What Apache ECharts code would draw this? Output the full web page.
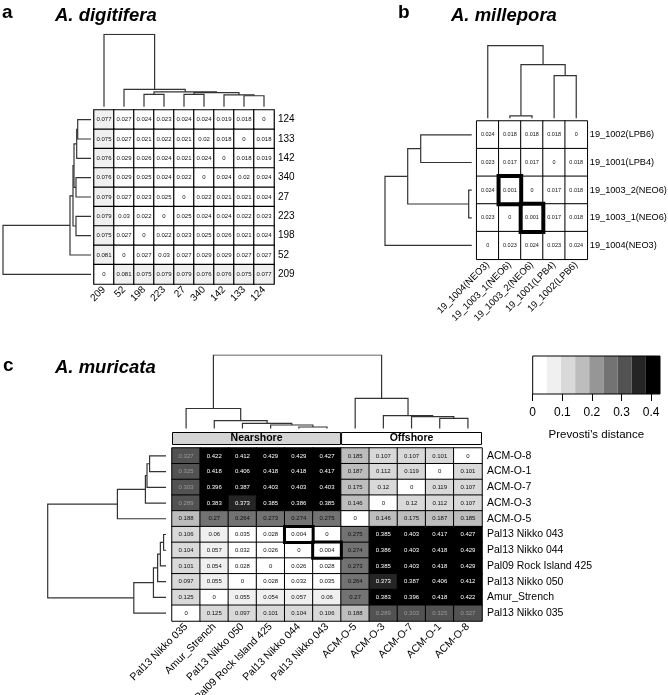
<!DOCTYPE html>
<html><head><meta charset="utf-8">
<script src="https://cdn.jsdelivr.net/npm/echarts@6/dist/echarts.min.js"></script>
<style>html,body{margin:0;padding:0;background:#fff}#c{width:668px;height:695px}</style>
</head><body><div id="c"></div>
<script>
// ================= DATA =================
// Panel a: A. digitifera
const aCols = ['209','52','198','223','27','340','142','133','124'];
const aRows = ['124','133','142','340','27','223','198','52','209'];
const aVals = [
  [0.077,0.027,0.024,0.023,0.024,0.024,0.019,0.018,0],
  [0.075,0.027,0.021,0.022,0.021,0.02,0.018,0,0.018],
  [0.076,0.029,0.026,0.024,0.021,0.024,0,0.018,0.019],
  [0.076,0.029,0.025,0.024,0.022,0,0.024,0.02,0.024],
  [0.079,0.027,0.023,0.025,0,0.022,0.021,0.021,0.024],
  [0.079,0.03,0.022,0,0.025,0.024,0.024,0.022,0.023],
  [0.075,0.027,0,0.022,0.023,0.025,0.026,0.021,0.024],
  [0.081,0,0.027,0.03,0.027,0.029,0.029,0.027,0.027],
  [0,0.081,0.075,0.079,0.079,0.076,0.076,0.075,0.077]
];
// dendrogram merges [childA, childB, height] (leaf ids = column index, merged ids follow)
const aMerges = [[7,8,13.3],[6,9,14.3],[4,5,15],[2,3,15],[11,10,17],[12,13,18],[1,14,21],[0,15,88]];

// Panel b: A. millepora
const bCols = ['19_1004(NEO3)','19_1003_1(NEO6)','19_1003_2(NEO6)','19_1001(LPB4)','19_1002(LPB6)'];
const bRows = ['19_1002(LPB6)','19_1001(LPB4)','19_1003_2(NEO6)','19_1003_1(NEO6)','19_1004(NEO3)'];
const bVals = [
  [0.024,0.018,0.018,0.018,0],
  [0.023,0.017,0.017,0,0.018],
  [0.024,0.001,0,0.017,0.018],
  [0.023,0,0.001,0.017,0.018],
  [0,0.023,0.024,0.023,0.024]
];
const bMerges = [[1,2,3],[3,4,51],[5,6,64],[0,7,86.7]];
const bHighlight = [['19_1003_2(NEO6)','19_1003_1(NEO6)'],['19_1003_1(NEO6)','19_1003_2(NEO6)']];

// Panel c: A. muricata
const cCols = ['Pal13 Nikko 035','Amur_Strench','Pal13 Nikko 050','Pal09 Rock Island 425','Pal13 Nikko 044','Pal13 Nikko 043','ACM-O-5','ACM-O-3','ACM-O-7','ACM-O-1','ACM-O-8'];
const cColGroups = ['Nearshore','Nearshore','Nearshore','Nearshore','Nearshore','Nearshore','Offshore','Offshore','Offshore','Offshore','Offshore'];
const cRows = ['ACM-O-8','ACM-O-1','ACM-O-7','ACM-O-3','ACM-O-5','Pal13 Nikko 043','Pal13 Nikko 044','Pal09 Rock Island 425','Pal13 Nikko 050','Amur_Strench','Pal13 Nikko 035'];
const cVals = [
  [0.327,0.422,0.412,0.429,0.429,0.427,0.185,0.107,0.107,0.101,0],
  [0.325,0.418,0.406,0.418,0.418,0.417,0.187,0.112,0.119,0,0.101],
  [0.303,0.396,0.387,0.403,0.403,0.403,0.175,0.12,0,0.119,0.107],
  [0.289,0.383,0.373,0.385,0.386,0.385,0.146,0,0.12,0.112,0.107],
  [0.188,0.27,0.264,0.273,0.274,0.275,0,0.146,0.175,0.187,0.185],
  [0.106,0.06,0.035,0.028,0.004,0,0.275,0.385,0.403,0.417,0.427],
  [0.104,0.057,0.032,0.026,0,0.004,0.274,0.386,0.403,0.418,0.429],
  [0.101,0.054,0.028,0,0.026,0.028,0.273,0.385,0.403,0.418,0.429],
  [0.097,0.055,0,0.028,0.032,0.035,0.264,0.373,0.387,0.406,0.412],
  [0.125,0,0.055,0.054,0.057,0.06,0.27,0.383,0.396,0.418,0.422],
  [0,0.125,0.097,0.101,0.104,0.106,0.188,0.289,0.303,0.325,0.327]
];
const cMerges = [[4,5,1.5],[3,11,3.5],[2,12,5.2],[1,13,7.8],[0,14,20],[9,10,10.2],[8,16,11.8],[7,17,12.8],[6,18,30.2],[15,19,73.5]];
const cHighlight = [['Pal13 Nikko 043','Pal13 Nikko 044'],['Pal13 Nikko 044','Pal13 Nikko 043']];

// Colour key
const keyColors = ['#FFFFFF','#F0F0F0','#D9D9D9','#BDBDBD','#969696','#737373','#525252','#252525','#000000'];
const keyMax = 0.43;
const keyTicks = [0,0.1,0.2,0.3,0.4];

// ================= BUILD =================
const FF = '"Liberation Sans", Arial, Helvetica, sans-serif';
const step = keyMax / keyColors.length;
const pieces = keyColors.map((c,i)=> i===keyColors.length-1 ? {gte:i*step, lte:10, color:c} : {gte:i*step, lt:(i+1)*step, color:c});

function heatData(rows, cols, vals, colorFn){
  const out = [];
  rows.forEach((r,ri)=> cols.forEach((c,ci)=>{
    const v = vals[ri][ci];
    out.push({value:[ci,ri,v], label:{color:colorFn(v)}});
  }));
  return out;
}
function hlData(rows, cols, hl){
  return hl.map(([r,c])=>[cols.indexOf(c), rows.indexOf(r), 1]);
}
function dendro(n, merges, orient){
  const pos=[], ht=[];
  for(let i=0;i<n;i++){pos[i]=i;ht[i]=0;}
  return merges.map((m,k)=>{
    const [a,b,h]=m, id=n+k;
    pos[id]=(pos[a]+pos[b])/2; ht[id]=h;
    const pts=[[pos[a],ht[a]],[pos[a],h],[pos[b],h],[pos[b],ht[b]]];
    return {coords: orient==='top'?pts:pts.map(p=>[p[1],p[0]])};
  });
}
const rootH = m => m[m.length-1][2];

const L = { // layout [left, top, width, height]
  aHeat:[94,110,180,174], aTop:[94,34.3,180,72.4], aLeft:[3,110,88,174],
  bHeat:[476.7,121,110.6,138.3], bTop:[476.7,45.7,110.6,72.6], bLeft:[385,121,86.7,138.3],
  cHeat:[172,448,310,173], cTop:[172,355,310,73.5], cLeft:[47.7,448,118.3,173],
  cAnn:[172,432,310,13], key:[532.7,356,127.3,38]
};
const order = ['aHeat','aTop','aLeft','bHeat','bTop','bLeft','cHeat','cTop','cLeft','cAnn','key'];
const gi = k => order.indexOf(k);
const grids = order.map(k=>{
  const [l,t,w,h]=L[k];
  const g = {left:l, top:t, width:w, height:h, outerBoundsMode:'none', containLabel:false};
  if(k==='key'){ Object.assign(g,{show:true, z:10, backgroundColor:'transparent', borderColor:'#000', borderWidth:1}); }
  return g;
});

const xAxes=[], yAxes=[];
function heatAxes(k, rows, cols, fs, fsx, margin){
  xAxes[gi(k)] = {gridIndex:gi(k), type:'category', data:cols, position:'bottom',
    axisLine:{show:false}, axisTick:{show:false}, splitLine:{show:false},
    axisLabel:{rotate:45, interval:0, fontSize:fsx, color:'#000', margin:4, fontFamily:FF}};
  yAxes[gi(k)] = {gridIndex:gi(k), type:'category', data:rows, inverse:true, position:'right',
    axisLine:{show:false}, axisTick:{show:false}, splitLine:{show:false},
    axisLabel:{interval:0, fontSize:fs, color:'#000', margin:margin, fontFamily:FF}};
}
function dendAxes(k, n, H, orient){
  const pos = {type:'value', min:-0.5, max:n-0.5, show:false};
  const hgt = {type:'value', min:0, max:H, show:false};
  if(orient==='top'){
    xAxes[gi(k)] = Object.assign({gridIndex:gi(k)}, pos);
    yAxes[gi(k)] = Object.assign({gridIndex:gi(k)}, hgt);
  } else {
    xAxes[gi(k)] = Object.assign({gridIndex:gi(k), inverse:true}, hgt);
    yAxes[gi(k)] = Object.assign({gridIndex:gi(k)}, pos);
  }
}
heatAxes('aHeat', aRows, aCols, 10, 10, 4);
heatAxes('bHeat', bRows, bCols, 9.2, 9.5, 2.5);
heatAxes('cHeat', cRows, cCols, 10.5, 10.5, 5);
dendAxes('aTop', aCols.length, rootH(aMerges), 'top');
dendAxes('aLeft', aCols.length, rootH(aMerges), 'left');
dendAxes('bTop', bCols.length, rootH(bMerges), 'top');
dendAxes('bLeft', bCols.length, rootH(bMerges), 'left');
dendAxes('cTop', cCols.length, rootH(cMerges), 'top');
dendAxes('cLeft', cCols.length, rootH(cMerges), 'left');
xAxes[gi('cAnn')] = {gridIndex:gi('cAnn'), type:'value', min:0, max:cCols.length, show:false};
yAxes[gi('cAnn')] = {gridIndex:gi('cAnn'), type:'category', data:['group'], show:false};
xAxes[gi('key')] = {gridIndex:gi('key'), type:'value', min:0, max:keyMax, interval:0.1,
  axisLine:{show:false}, splitLine:{show:false},
  axisTick:{show:true, length:7, lineStyle:{color:'#000', width:1}},
  axisLabel:{fontSize:12, color:'#000', margin:13, fontFamily:FF, formatter:v=> keyTicks.indexOf(Math.round(v*10)/10)>=0 ? String(Math.round(v*10)/10) : ''},
  name:"Prevosti's distance", nameLocation:'middle', nameGap:35, nameTextStyle:{fontSize:11.5, color:'#000', fontFamily:FF}};
yAxes[gi('key')] = {gridIndex:gi('key'), type:'category', data:['key'], show:false};

const darkText = v => '#111';
const cText = v => v >= 6*step + 0.048 ? '#fff' : (v >= 6*step ? '#9a9a9a' : '#111');

function heatSeries(k, rows, cols, vals, fs, colorFn, bw){
  return {type:'heatmap', xAxisIndex:gi(k), yAxisIndex:gi(k), data:heatData(rows, cols, vals, colorFn),
    itemStyle:{borderColor:'#000', borderWidth:bw},
    label:{show:true, fontSize:fs, fontFamily:FF, formatter:p=>String(p.value[2])},
    emphasis:{disabled:true}, silent:true, z:2};
}
function hlSeries(k, rows, cols, hl, bw){
  return {type:'heatmap', xAxisIndex:gi(k), yAxisIndex:gi(k), data:hlData(rows, cols, hl),
    itemStyle:{color:'rgba(0,0,0,0)', borderColor:'#000', borderWidth:bw},
    label:{show:false}, emphasis:{disabled:true}, silent:true, z:5};
}
function dendSeries(k, n, merges, orient){
  return {type:'lines', coordinateSystem:'cartesian2d', xAxisIndex:gi(k), yAxisIndex:gi(k), polyline:true,
    data:dendro(n, merges, orient), lineStyle:{color:'#333', width:1.2, opacity:1}, silent:true};
}

const series = [
  heatSeries('aHeat', aRows, aCols, aVals, 6, darkText, 1.2),
  heatSeries('bHeat', bRows, bCols, bVals, 5.5, darkText, 1),
  hlSeries('bHeat', bRows, bCols, bHighlight, 4),
  heatSeries('cHeat', cRows, cCols, cVals, 6, cText, 1),
  hlSeries('cHeat', cRows, cCols, cHighlight, 3),
  dendSeries('aTop', aCols.length, aMerges, 'top'),
  dendSeries('aLeft', aCols.length, aMerges, 'left'),
  dendSeries('bTop', bCols.length, bMerges, 'top'),
  dendSeries('bLeft', bCols.length, bMerges, 'left'),
  dendSeries('cTop', cCols.length, cMerges, 'top'),
  dendSeries('cLeft', cCols.length, cMerges, 'left')
];
// group annotation bar
const groupNames = [...new Set(cColGroups)];
const groupFill = {Nearshore:'#d4d4d4', Offshore:'#ffffff'};
groupNames.forEach(g=>{
  series.push({type:'bar', name:g, xAxisIndex:gi('cAnn'), yAxisIndex:gi('cAnn'), stack:'grp', barWidth:'100%',
    data:[cColGroups.filter(x=>x===g).length],
    itemStyle:{color:groupFill[g], borderColor:'#000', borderWidth:1},
    label:{show:true, position:'inside', formatter:g, fontWeight:'bold', fontSize:10.5, color:'#000', fontFamily:FF},
    silent:true});
});
// colour key
keyColors.forEach((c,i)=>{
  series.push({type:'bar', xAxisIndex:gi('key'), yAxisIndex:gi('key'), stack:'key', barWidth:'100%',
    data:[step], itemStyle:{color:c}, silent:true});
});

const tBold = (size)=>({fontSize:size, fontWeight:'bold', color:'#000', fontFamily:FF});
const tItal = (size)=>({fontSize:size, fontWeight:'bold', fontStyle:'italic', color:'#000', fontFamily:FF});
const option = {
  animation:false,
  textStyle:{fontFamily:FF},
  title:[
    {text:'a', left:2, top:3, padding:0, textStyle:tBold(19)},
    {text:'A. digitifera', left:55, top:6, padding:0, textStyle:tItal(18.5)},
    {text:'b', left:398, top:3, padding:0, textStyle:tBold(19)},
    {text:'A. millepora', left:451, top:6, padding:0, textStyle:tItal(18.5)},
    {text:'c', left:3, top:356, padding:0, textStyle:tBold(19)},
    {text:'A. muricata', left:55, top:358, padding:0, textStyle:tItal(18.5)}
  ],
  grid:grids, xAxis:xAxes, yAxis:yAxes,
  visualMap:[{type:'piecewise', show:false, dimension:2, seriesIndex:[0,1,3], pieces:pieces}],
  series:series
};
const chart = echarts.init(document.getElementById('c'), null, {renderer:'canvas'});
chart.setOption(option);
</script></body></html>
